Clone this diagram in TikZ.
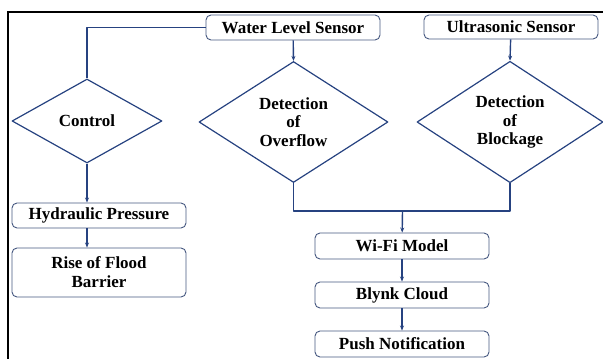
\documentclass[tikz,border=0pt]{standalone}
\usepackage{fontspec}
\setmainfont{Liberation Serif}
\usetikzlibrary{shapes.geometric,arrows.meta}
\definecolor{flowblue}{RGB}{38,66,128}
\definecolor{boxedge}{RGB}{70,88,128}
\tikzset{
  stagebox/.style={draw=boxedge, line width=0.9pt, rounded corners=5pt, fill=white,
    minimum width=174pt, inner sep=0pt, align=center, font=\bfseries\fontsize{17}{19}\selectfont},
  choice/.style={diamond, draw=flowblue, line width=1.2pt, inner sep=0pt, align=center,
    font=\bfseries\fontsize{17}{18.5}\selectfont},
  flow/.style={draw=flowblue, line width=1.4pt},
  flowarrow/.style={flow, -{Stealth[length=5pt,width=4pt]}}
}
\begin{document}
\begin{tikzpicture}[x=1pt, y=-1pt, line join=round]
  \useasboundingbox (0,0) rectangle (603,359);
  % outer frame
  \draw[line width=2.4pt, line join=miter] (8,359) -- (8,12) -- (603,12);

  % sensors
  \node[stagebox, minimum height=25pt] (wls) at (293,27.5) {Water Level Sensor};
  \node[stagebox, minimum height=24pt] (uss) at (511,27) {Ultrasonic Sensor};

  % decisions
  \node[choice, minimum width=150pt, minimum height=84pt] (ctrl) at (87,121) {Control};
  \node[choice, minimum width=189pt, minimum height=121pt] (ovf) at (293.5,122) {Detection\\of\\Overflow};
  \node[choice, minimum width=186pt, minimum height=121pt] (blk) at (510,122) {Detection\\of\\Blockage};

  % barrier branch
  \node[stagebox, minimum height=25pt] (hyd) at (99,215.5) {Hydraulic Pressure};
  \node[stagebox, minimum height=49pt] (rise) at (99,272.5) {Rise of Flood\\Barrier};

  % alert branch
  \coordinate (mrg) at (402.5,211);
  \node[stagebox, minimum height=26pt] (wifi) at (402,246) {Wi-Fi Model};
  \node[stagebox, minimum height=26pt] (blynk) at (402,295) {Blynk Cloud};
  \node[stagebox, minimum height=26pt] (push) at (402,344) {Push Notification};

  % connectors
  \draw[flow] (wls.west) -| (ctrl.north);
  \draw[flowarrow] (wls) -- (ovf.north);
  \draw[flowarrow] (uss) -- (blk.north);
  \draw[flowarrow] (ctrl.south) -- (ctrl.south |- hyd.north);
  \draw[flowarrow] (ctrl.south |- hyd.south) -- (ctrl.south |- rise.north);
  \draw[flow] (ovf.south) |- (mrg) (blk.south) |- (mrg);
  \draw[flowarrow] (mrg) -- (wifi);
  \draw[flowarrow] (wifi) -- (blynk);
  \draw[flowarrow] (blynk) -- (push);
\end{tikzpicture}
\end{document}
